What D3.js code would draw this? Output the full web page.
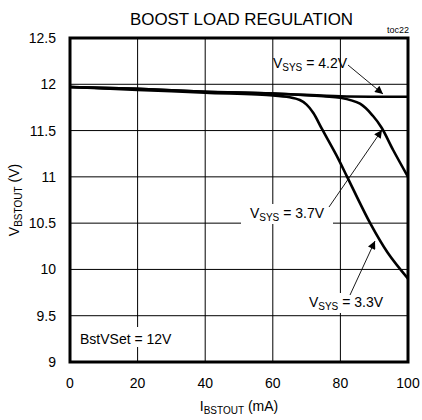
<!DOCTYPE html>
<html><head><meta charset="utf-8">
<script src="https://cdn.jsdelivr.net/npm/d3@7"></script>
<style>body{margin:0;background:#fff}svg{display:block}text{font-family:"Liberation Sans",Arial,sans-serif;fill:#000}</style>
</head><body>
<svg id="c" width="422" height="420"></svg>
<script>
const xTicks = [0,20,40,60,80,100];
const yTicks = [9,9.5,10,10.5,11,11.5,12,12.5];
const iLoad42 = [0,20,40,60,80,90,100];
const vOut42 = [11.97,11.95,11.92,11.9,11.87,11.865,11.865];
const iLoad37 = [0,20,40,60,75,80,85.8,89.6,92.2,95.6,100];
const vOut37 = [11.97,11.95,11.92,11.9,11.87,11.855,11.79,11.66,11.53,11.29,11.0];
const iLoad33 = [0,20,40,60,65,68,70,72,74.5,79.3,82,88.8,94,100];
const vOut33 = [11.97,11.94,11.91,11.88,11.86,11.83,11.78,11.69,11.52,11.2,11.0,10.5,10.18,9.9];

const svg = d3.select('#c');
const x = d3.scaleLinear().domain([0,100]).range([70,408]);
const y = d3.scaleLinear().domain([9,12.5]).range([362,38]);

// grid
const g = svg.append('g');
g.selectAll('line.vx').data(xTicks.slice(1,-1)).join('line')
  .attr('x1',d=>x(d)).attr('x2',d=>x(d)).attr('y1',y(12.5)).attr('y2',y(9))
  .attr('stroke','#000').attr('stroke-width',1);
g.selectAll('line.hy').data(yTicks.slice(1,-1)).join('line')
  .attr('y1',d=>y(d)).attr('y2',d=>y(d)).attr('x1',x(0)).attr('x2',x(100))
  .attr('stroke','#000').attr('stroke-width',1);

// tick labels
svg.append('g').selectAll('text').data(yTicks).join('text')
  .attr('x',56).attr('y',d=>y(d)+5).attr('text-anchor','end')
  .attr('font-size',14).text(d=>d);
svg.append('g').selectAll('text').data(xTicks).join('text')
  .attr('x',d=>x(d)).attr('y',388).attr('text-anchor','middle')
  .attr('font-size',14).text(d=>d);

// curves
const line = d3.line().curve(d3.curveCatmullRom.alpha(0.5));
function draw(xs, ys){
  svg.append('path').attr('d', line(xs.map((d,i)=>[x(d),y(ys[i])])))
    .attr('fill','none').attr('stroke','#000').attr('stroke-width',2.6).attr('stroke-linejoin','round');
}
draw(iLoad42,vOut42); draw(iLoad37,vOut37); draw(iLoad33,vOut33);

// label backgrounds + labels
function label(cx, cy, sub, bgw){
  if(bgw) svg.append('rect').attr('x',cx-bgw/2).attr('y',cy-14).attr('width',bgw).attr('height',20).attr('fill','#fff');
  const t = svg.append('text').attr('x',cx).attr('y',cy).attr('text-anchor','middle').attr('font-size',14);
  t.append('tspan').text('V');
  t.append('tspan').attr('font-size',10).attr('dy',3).text('SYS');
  t.append('tspan').attr('dy',-3).text(' = '+sub);
}
label(310,68,'4.2V',0);
label(287,218,'3.7V',92);
label(346,307,'3.3V',80);

// BstVSet
svg.append('rect').attr('x',78).attr('y',327).attr('width',92).attr('height',20).attr('fill','#fff');
svg.append('text').attr('x',80).attr('y',344).attr('font-size',14).text('BstVSet = 12V');

// arrows
svg.append('defs').append('marker').attr('id','ah').attr('viewBox','0 0 10 10')
  .attr('refX',10).attr('refY',5).attr('markerWidth',10).attr('markerHeight',8)
  .attr('markerUnits','userSpaceOnUse').attr('orient','auto')
  .append('path').attr('d','M0,0L10,5L0,10z').attr('fill','#000');
function arrow(x1,y1,x2,y2){
  svg.append('line').attr('x1',x1).attr('y1',y1).attr('x2',x2).attr('y2',y2)
    .attr('stroke','#000').attr('stroke-width',0.9).attr('marker-end','url(#ah)');
}
arrow(348,65,383,94);
arrow(329,207,382,130);
arrow(350,295,375,241);

// frame
svg.append('rect').attr('x',x(0)).attr('y',y(12.5)).attr('width',x(100)-x(0)).attr('height',y(9)-y(12.5))
  .attr('fill','none').attr('stroke','#000').attr('stroke-width',3);

// title etc.
svg.append('text').attr('x',130).attr('y',25).attr('font-size',17)
  .attr('textLength',223).attr('lengthAdjust','spacingAndGlyphs').text('BOOST LOAD REGULATION');
svg.append('text').attr('x',409).attr('y',33).attr('text-anchor','end').attr('font-size',9).text('toc22');

const xl = svg.append('text').attr('x',239).attr('y',411).attr('text-anchor','middle').attr('font-size',14);
xl.append('tspan').text('I');
xl.append('tspan').attr('font-size',10).attr('dy',3).text('BSTOUT');
xl.append('tspan').attr('dy',-3).text(' (mA)');

const yl = svg.append('text').attr('transform','translate(19,200) rotate(-90)').attr('text-anchor','middle').attr('font-size',14);
yl.append('tspan').text('V');
yl.append('tspan').attr('font-size',10).attr('dy',3).text('BSTOUT');
yl.append('tspan').attr('dy',-3).text(' (V)');
</script>
</body></html>
